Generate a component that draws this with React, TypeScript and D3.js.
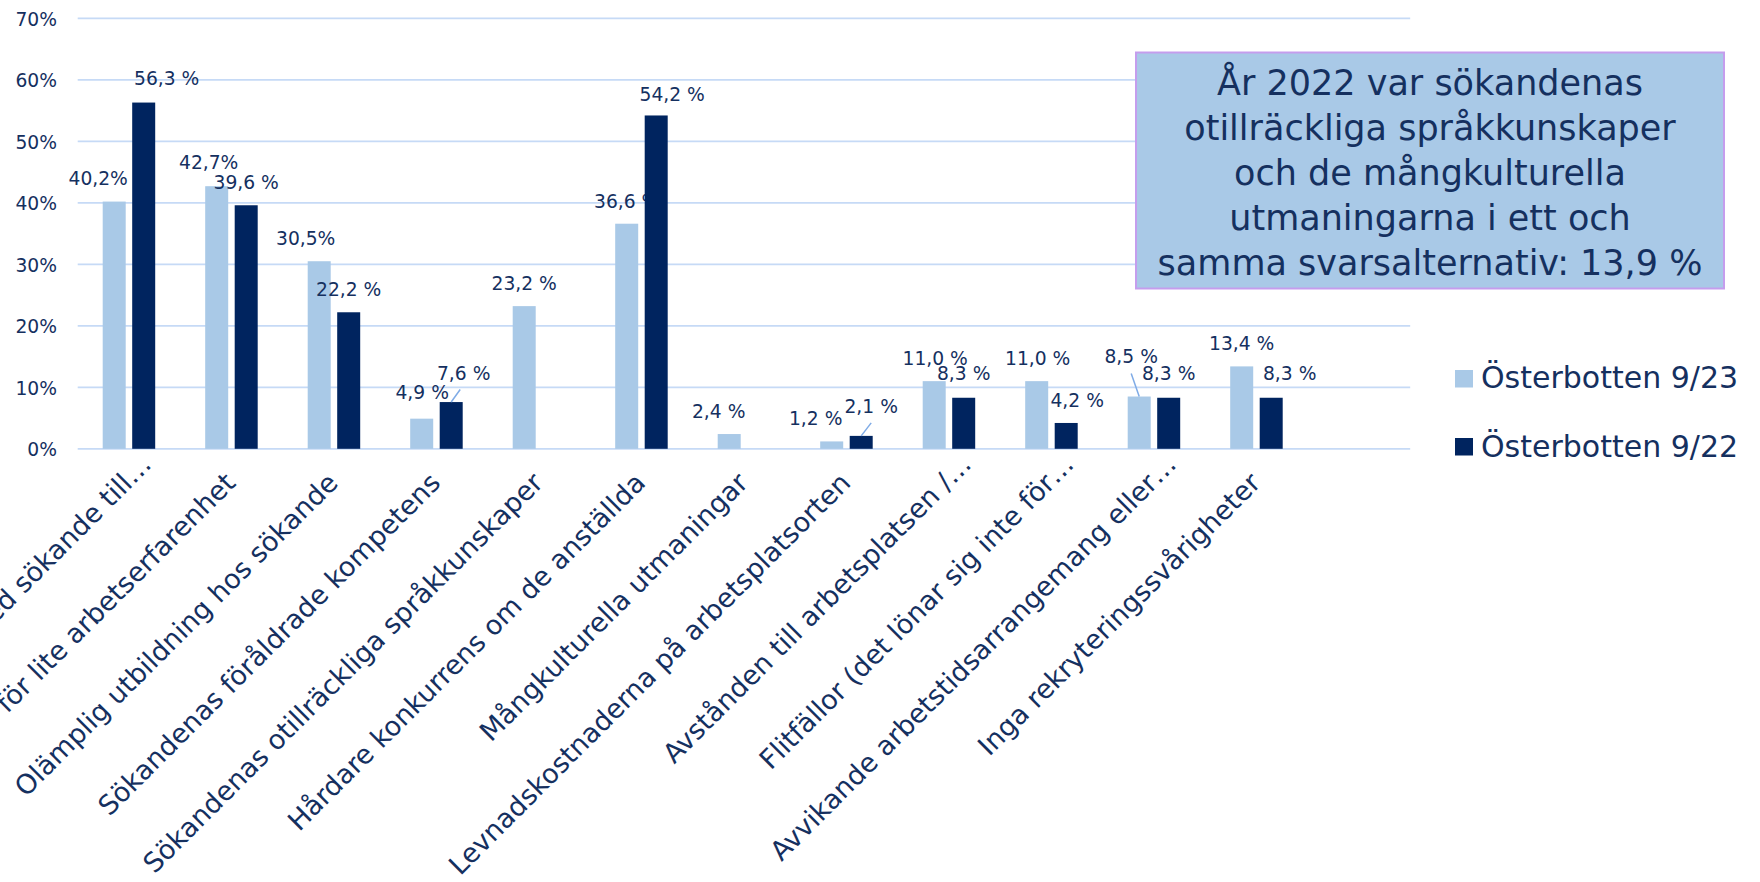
import React from "react";
import * as d3 from "d3";

// ---------- data ----------
const categories: string[] = [
  "Problem med sökande till…",
  "Sökanden har för lite arbetserfarenhet",
  "Olämplig utbildning hos sökande",
  "Sökandenas föråldrade kompetens",
  "Sökandenas otillräckliga språkkunskaper",
  "Hårdare konkurrens om de anställda",
  "Mångkulturella utmaningar",
  "Levnadskostnaderna på arbetsplatsorten",
  "Avstånden till arbetsplatsen /…",
  "Flitfällor (det lönar sig inte för…",
  "Avvikande arbetstidsarrangemang eller…",
  "Inga rekryteringssvårigheter",
];

const seriesNames: string[] = ["Österbotten 9/23", "Österbotten 9/22"];

const values2023: (number | null)[] = [40.2, 42.7, 30.5, 4.9, 23.2, 36.6, 2.4, 1.2, 11.0, 11.0, 8.5, 13.4];
const values2022: (number | null)[] = [56.3, 39.6, 22.2, 7.6, null, 54.2, null, 2.1, 8.3, 4.2, 8.3, 8.3];

const labels2023: string[] = ["40,2%", "42,7%", "30,5%", "4,9 %", "23,2 %", "36,6 %", "2,4 %", "1,2 %", "11,0 %", "11,0 %", "8,5 %", "13,4 %"];
const labels2022: string[] = ["56,3 %", "39,6 %", "22,2 %", "7,6 %", "", "54,2 %", "", "2,1 %", "8,3 %", "4,2 %", "8,3 %", "8,3 %"];

const yTicks: number[] = [0, 10, 20, 30, 40, 50, 60, 70];

const annotationLines: string[] = [
  "År 2022 var sökandenas",
  "otillräckliga språkkunskaper",
  "och de mångkulturella",
  "utmaningarna i ett och",
  "samma svarsalternativ: 13,9 %",
];

// label nudges (label centre x offset from bar centre, baseline offset from bar top)
const nudge2023: [number, number][] = [[-16, -16.5], [-8, -17], [-13.5, -16], [0.5, -20], [0, -16], [0, -16], [-10.5, -16], [-16, -16], [1, -16], [1, -16], [-8, -33.5], [0, -16]];
const nudge2022: [number, number][] = [[23, -18], [0, -16], [0, -16], [12.5, -22], [0, 0], [16, -14], [0, 0], [10, -23], [0, -18], [11, -16], [0, -18], [18.5, -18]];
// leader lines
const leaders: { s: number; i: number; x1: number; y1: number; x2: number; y2: number }[] = [
  { s: 1, i: 3, x1: 0, y1: 0, x2: 9, y2: -12.5 },
  { s: 1, i: 7, x1: 0, y1: 0, x2: 10, y2: -13 },
  { s: 0, i: 10, x1: -8, y1: -23, x2: 0, y2: 0 },
];

// ---------- style ----------
const W = 1760;
const H = 882;
const FONT = "'DejaVu Sans', sans-serif";
const TEXT = "#15305f";
const LIGHT = "#a9c9e7";
const DARK = "#00245f";
const GRID = "#c6daf6";
const colors = [LIGHT, DARK];

export default function App() {
  const plotLeft = 77.7;
  const step = 102.5;
  const x = d3
    .scaleBand<string>()
    .domain(categories)
    .range([plotLeft, plotLeft + step * categories.length])
    .paddingInner(0)
    .paddingOuter(0);
  const gridRight = plotLeft + step * (categories.length + 1);
  const y = d3.scaleLinear().domain([0, 70]).range([448.8, 18.3]);
  const inner = d3
    .scaleBand<string>()
    .domain(seriesNames)
    .range([x.bandwidth() / 2 - 26.25, x.bandwidth() / 2 + 26.25])
    .paddingInner(0.22);
  const bw = inner.bandwidth();

  const series = [values2023, values2022];
  const seriesLabels = [labels2023, labels2022];
  const nudges = [nudge2023, nudge2022];

  const barCx = (s: number, i: number) =>
    (x(categories[i]) as number) + (inner(seriesNames[s]) as number) + bw / 2;

  const renderBars = (s: number) =>
    series[s].map((v, i) =>
      v == null ? null : (
        <rect
          key={`b${s}-${i}`}
          x={barCx(s, i) - bw / 2}
          y={y(v)}
          width={bw}
          height={y(0) - y(v)}
          fill={colors[s]}
        />
      )
    );

  const renderLabels = (s: number) =>
    series[s].map((v, i) =>
      v == null ? null : (
        <text
          key={`l${s}-${i}`}
          x={barCx(s, i) + nudges[s][i][0]}
          y={y(v) + nudges[s][i][1]}
          textAnchor="middle"
          fontSize={18.7}
          fontFamily={FONT}
          fill={TEXT}
        >
          {seriesLabels[s][i]}
        </text>
      )
    );

  return (
    <svg
      width={W}
      height={H}
      viewBox={`0 0 ${W} ${H}`}
      style={{ position: "absolute", left: 0, top: 0, background: "#fff" }}
    >
      <rect x={0} y={0} width={W} height={H} fill="#fff" />
      {/* gridlines */}
      {yTicks.map((t) => (
        <line key={`g${t}`} x1={plotLeft} x2={gridRight} y1={y(t)} y2={y(t)} stroke={GRID} strokeWidth={1.8} />
      ))}
      {/* y tick labels */}
      {yTicks.map((t) => (
        <text
          key={`t${t}`}
          x={57}
          y={y(t) + 7.2}
          textAnchor="end"
          fontSize={18.7}
          fontFamily={FONT}
          fill={TEXT}
        >
          {`${t}%`}
        </text>
      ))}
      {renderBars(0)}
      {renderLabels(0)}
      {renderBars(1)}
      {renderLabels(1)}
      {leaders.map((l, k) => {
        const v = series[l.s][l.i] as number;
        const cx = barCx(l.s, l.i);
        return (
          <line
            key={`ld${k}`}
            x1={cx + l.x1}
            y1={y(v) + l.y1}
            x2={cx + l.x2}
            y2={y(v) + l.y2}
            stroke="#7fabe6"
            strokeWidth={1.5}
          />
        );
      })}
      {/* category labels */}
      {categories.map((c) => {
        const cx = (x(c) as number) + x.bandwidth() / 2;
        const truncated = c.endsWith("…");
        const back = truncated ? 0 : 18.4;
        return (
          <text
            key={`c${c}`}
            transform={`translate(${cx + 24 - back},${466 + back}) rotate(-45)`}
            textAnchor="end"
            fontSize={27}
            fontFamily={FONT}
            fill={TEXT}
          >
            {c}
          </text>
        );
      })}
      {/* annotation box */}
      <rect x={1136} y={52.5} width={588} height={236} fill={LIGHT} stroke="#c59ded" strokeWidth={2} />
      {annotationLines.map((line, k) => (
        <text
          key={`a${k}`}
          x={1430}
          y={95 + k * 45}
          textAnchor="middle"
          fontSize={35}
          fontFamily={FONT}
          fill={TEXT}
        >
          {line}
        </text>
      ))}
      {/* legend */}
      {seriesNames.map((n, k) => (
        <g key={`lg${n}`}>
          <rect x={1455} y={370 + k * 68} width={18} height={17.5} fill={colors[k]} />
          <text x={1481} y={388 + k * 69} fontSize={30} fontFamily={FONT} fill={TEXT}>
            {n}
          </text>
        </g>
      ))}
    </svg>
  );
}
